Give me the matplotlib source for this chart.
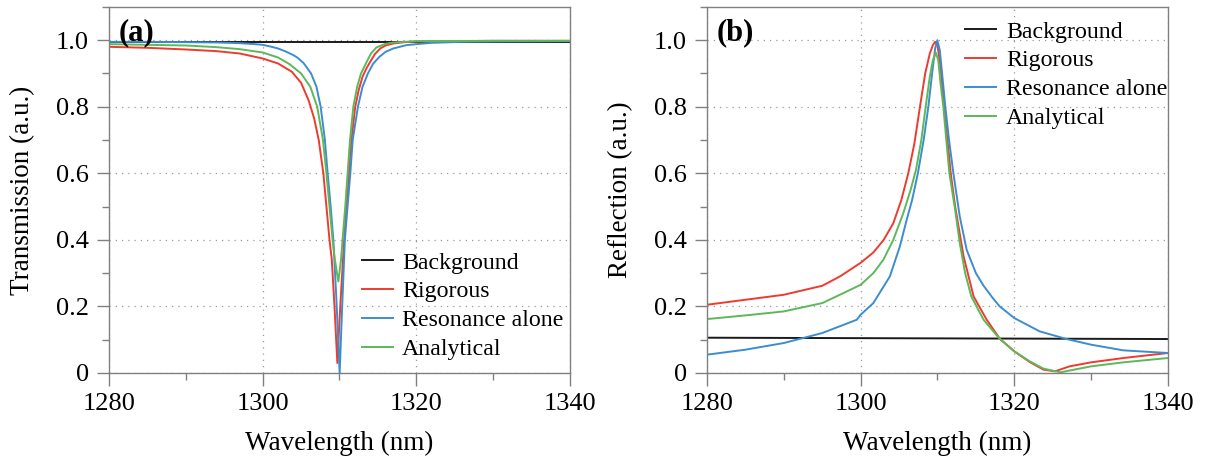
import numpy as np
import matplotlib
matplotlib.use("Agg")
import matplotlib.pyplot as plt
from matplotlib.ticker import MultipleLocator

plt.rcParams['font.family'] = ['Liberation Serif', 'DejaVu Serif']

# ---- data ----
# (a) transmission
bg_a_wl = [1280, 1340]
bg_a = [0.995, 0.995]

rig_a_wl = [1280, 1285, 1290, 1294, 1297, 1300, 1302, 1303.8, 1305, 1306.0, 1306.7,
            1307.3, 1307.9, 1308.3, 1308.7, 1309.0, 1309.35, 1309.72, 1310.1, 1310.6,
            1311.24, 1311.55, 1312.05, 1312.5, 1313.0, 1313.5, 1314.0, 1314.6, 1315.3,
            1316, 1317, 1318.5, 1320, 1330, 1340]
rig_a = [0.980, 0.977, 0.972, 0.967, 0.960, 0.945, 0.930, 0.905, 0.872, 0.818, 0.765,
         0.70, 0.60, 0.50, 0.40, 0.34, 0.20, 0.03, 0.20, 0.40,
         0.60, 0.70, 0.80, 0.85, 0.89, 0.915, 0.935, 0.958, 0.975,
         0.984, 0.990, 0.994, 0.996, 0.998, 0.998]

res_a_wl = [1280, 1285, 1290, 1294, 1297, 1299, 1300, 1301, 1302, 1303, 1304, 1304.5,
            1305.3, 1306.3, 1307.0, 1307.55, 1308.1, 1308.46, 1308.85, 1309.2,
            1309.6, 1310.02, 1310.35, 1310.7, 1311.05, 1311.41, 1311.72, 1312.4,
            1313.0, 1313.7, 1314.4, 1315.2, 1316, 1317, 1318.7, 1320, 1322, 1326,
            1330, 1340]
res_a = [0.995, 0.995, 0.994, 0.993, 0.991, 0.988, 0.986, 0.981, 0.975, 0.966, 0.955, 0.948,
         0.932, 0.90, 0.86, 0.80, 0.70, 0.60, 0.50, 0.40,
         0.22, 0.0, 0.20, 0.40, 0.50, 0.60, 0.70, 0.80,
         0.86, 0.90, 0.93, 0.95, 0.965, 0.975, 0.985, 0.988, 0.992, 0.995,
         0.996, 0.997]

ana_a_wl = [1280, 1285, 1290, 1294, 1297, 1300, 1302, 1303.5, 1305.0, 1306.2, 1307.1,
            1307.85, 1308.3, 1308.7, 1309.1, 1309.4, 1309.85, 1310.2, 1310.4, 1310.75,
            1311.06, 1311.37, 1311.8, 1312.3, 1312.8, 1313.5, 1314.1, 1314.8, 1316,
            1317, 1320, 1330, 1340]
ana_a = [0.988, 0.986, 0.984, 0.979, 0.973, 0.963, 0.948, 0.928, 0.90, 0.86, 0.80,
         0.70, 0.60, 0.50, 0.40, 0.34, 0.275, 0.34, 0.40, 0.50,
         0.60, 0.70, 0.80, 0.86, 0.90, 0.933, 0.96, 0.978, 0.989,
         0.993, 0.997, 0.998, 0.998]

# (b) reflection
bg_b_wl = [1280, 1340]
bg_b = [0.106, 0.102]

rig_b_wl = [1280, 1285, 1290, 1295, 1297.3, 1300, 1301.65, 1303.0, 1304.25, 1305.3,
            1306.2, 1307.0, 1307.72, 1308.4, 1309.0, 1309.4, 1309.68, 1310.0, 1310.4,
            1310.85, 1311.3, 1311.72, 1312.3, 1313.4, 1314.7, 1316.4, 1318.14, 1320,
            1322, 1323.8, 1325.3, 1327.2, 1330, 1334.2, 1340]
rig_b = [0.205, 0.22, 0.235, 0.262, 0.29, 0.331, 0.362, 0.40, 0.45, 0.52,
         0.60, 0.69, 0.80, 0.90, 0.96, 0.985, 0.995, 0.985, 0.92,
         0.80, 0.70, 0.60, 0.50, 0.35, 0.23, 0.16, 0.102, 0.065,
         0.033, 0.01, 0.005, 0.02, 0.032, 0.045, 0.06]

res_b_wl = [1280, 1285, 1290, 1295, 1299.5, 1300, 1301.65, 1303.8, 1305.1, 1306.0,
            1306.7, 1307.45, 1308.2, 1308.81, 1309.3, 1309.7, 1309.98, 1310.3, 1310.6,
            1311.02, 1311.5, 1312.07, 1312.9, 1313.8, 1315.0, 1316.0, 1317.2, 1318.1,
            1320, 1323.3, 1326.8, 1330, 1334.2, 1340]
res_b = [0.055, 0.07, 0.09, 0.12, 0.16, 0.175, 0.21, 0.29, 0.38, 0.461,
         0.52, 0.60, 0.70, 0.80, 0.90, 0.975, 1.0, 0.97, 0.90,
         0.80, 0.70, 0.60, 0.47, 0.37, 0.30, 0.262, 0.225, 0.20,
         0.165, 0.125, 0.102, 0.085, 0.068, 0.06]

ana_b_wl = [1280, 1285, 1290, 1295, 1297.3, 1300, 1301.65, 1302.95, 1304.25, 1305.55,
            1306.5, 1307.2, 1307.9, 1308.46, 1309.0, 1309.4, 1309.8, 1310.1, 1310.4,
            1310.76, 1311.15, 1311.55, 1312.3, 1312.9, 1313.6, 1314.4, 1316.0, 1318.0,
            1320, 1322, 1323.8, 1326.0, 1330, 1334.2, 1340]
ana_b = [0.162, 0.173, 0.185, 0.21, 0.235, 0.265, 0.30, 0.34, 0.40, 0.48,
         0.55, 0.61, 0.70, 0.80, 0.89, 0.94, 0.962, 0.94, 0.87,
         0.80, 0.70, 0.60, 0.49, 0.39, 0.30, 0.23, 0.16, 0.105,
         0.065, 0.035, 0.013, 0.002, 0.02, 0.032, 0.045]

labels = ["Background", "Rigorous", "Resonance alone", "Analytical"]
colors = ["#1a1a1a", "#ee3b2f", "#3c8dd0", "#5db85a"]
yticks = [0, 0.2, 0.4, 0.6, 0.8, 1.0]
yticklabels = ["0", "0.2", "0.4", "0.6", "0.8", "1.0"]
xticks = [1280, 1300, 1320, 1340]

fig = plt.figure(figsize=(12.06, 4.59), dpi=100)
ax_a = fig.add_axes([0.0904, 0.1874, 0.3822, 0.7976])
ax_b = fig.add_axes([0.5862, 0.1874, 0.3823, 0.7976])

panels = [
    (ax_a, [(bg_a_wl, bg_a), (rig_a_wl, rig_a), (res_a_wl, res_a), (ana_a_wl, ana_a)],
     "Transmission (a.u.)", "(a)", (0.548, 0.035)),
    (ax_b, [(bg_b_wl, bg_b), (rig_b_wl, rig_b), (res_b_wl, res_b), (ana_b_wl, ana_b)],
     "Reflection (a.u.)", "(b)", (0.56, 0.962)),
]

for ax, series, ylab, tag, anchor in panels:
    for (x, y), lab, c in zip(series, labels, colors):
        ax.plot(x, y, color=c, lw=1.4, label=lab)
    ax.set_xlim(1280, 1340)
    ax.set_ylim(0, 1.1)
    ax.set_xticks(xticks)
    ax.set_yticks(yticks)
    ax.set_yticklabels(yticklabels)
    ax.xaxis.set_minor_locator(MultipleLocator(10))
    ax.yaxis.set_minor_locator(MultipleLocator(0.1))
    ax.tick_params(which='major', direction='out', length=9, width=1.0,
                   color='#808080', labelsize=19, pad=5.5)
    ax.tick_params(which='minor', direction='out', length=5, width=1.0, color='#808080')
    ax.tick_params(top=False, right=False, which='both')
    for s in ax.spines.values():
        s.set_color('#808080')
        s.set_linewidth(1.0)
    ax.grid(True, which='major', linestyle=(0, (1, 4)), color='#9a9a9a', lw=0.9)
    ax.set_axisbelow(True)
    ax.set_xlabel("Wavelength (nm)", fontsize=19.5, labelpad=11)
    ax.set_ylabel(ylab, fontsize=19.5, labelpad=15)
    ax.text(0.02, 0.93, tag, transform=ax.transAxes, fontsize=22,
            fontweight='bold', va='center', ha='left')
    loc = 'lower left' if tag == "(a)" else 'upper left'
    ax.legend(loc=loc, bbox_to_anchor=anchor, frameon=False, fontsize=17.2,
              handlelength=1.3, handletextpad=0.4, labelspacing=0.3,
              borderaxespad=0.0, borderpad=0.0)

fig.savefig("out.png", dpi=100)
